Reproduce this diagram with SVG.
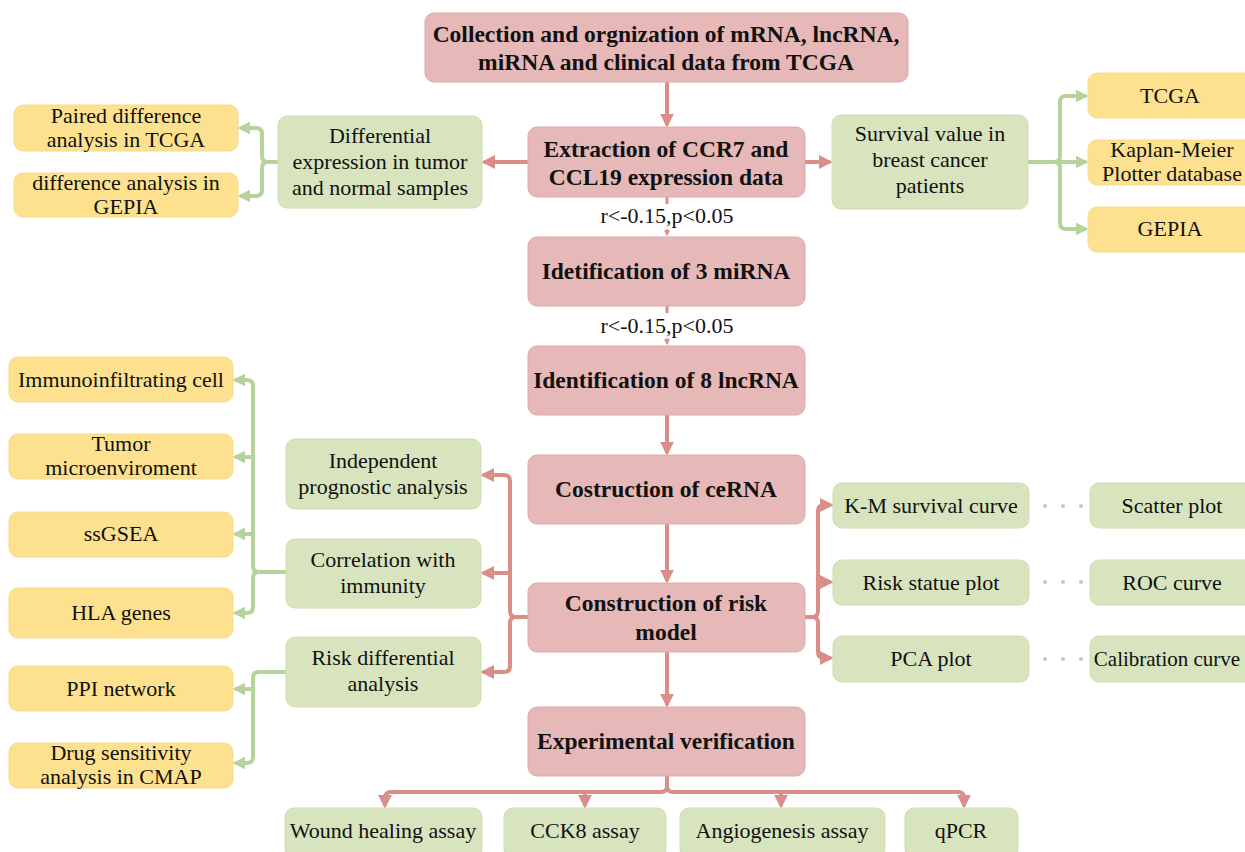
<svg xmlns="http://www.w3.org/2000/svg" width="1245" height="852" viewBox="0 0 1245 852">
<defs>
<style>
.r{fill:#E6B8B7;stroke:#DDAAA9;stroke-width:1}
.g{fill:#D7E4BD;stroke:#CEDDB2;stroke-width:1}
.y{fill:#FEE18F;stroke:#F8DA88;stroke-width:1}
text{font-family:"Liberation Serif","Times New Roman",serif;fill:#111;text-anchor:middle}
.b{font-weight:bold;font-size:23.5px}
.n{font-size:22px}
.rl{fill:none;stroke:#D98E8A;stroke-width:4}
.gl{fill:none;stroke:#B7D39C;stroke-width:4}
.dot{fill:none;stroke:#B7D39C;stroke-width:4;stroke-linecap:round;stroke-dasharray:0 18}
</style>
<marker id="ar" viewBox="0 0 10 10" refX="8" refY="5" markerUnits="userSpaceOnUse" markerWidth="14" markerHeight="14" orient="auto"><path d="M0,0 L10,5 L0,10 z" fill="#D98E8A"/></marker>
<marker id="ag" viewBox="0 0 10 10" refX="8" refY="5" markerUnits="userSpaceOnUse" markerWidth="13" markerHeight="13" orient="auto"><path d="M0,0 L10,5 L0,10 z" fill="#B7D39C"/></marker>
<marker id="as" viewBox="0 0 10 10" refX="8" refY="5" markerUnits="userSpaceOnUse" markerWidth="6" markerHeight="6" orient="auto"><path d="M0,0 L10,5 L0,10 z" fill="#D98E8A"/></marker>
</defs>
<rect width="1245" height="852" fill="#fff"/>

<g id="connectors">
<path class="rl" d="M667,82 V125" marker-end="url(#ar)"/>
<path class="rl" d="M528,162 H484" marker-end="url(#ar)"/>
<path class="rl" d="M805,162 H830" marker-end="url(#ar)"/>
<path d="M667,197 V204" stroke="#D98E8A" stroke-width="3"/>
<path d="M667,229 V235" stroke="#D98E8A" stroke-width="1.5" marker-end="url(#as)"/>
<path d="M667,306 V313" stroke="#D98E8A" stroke-width="3"/>
<path d="M667,338 V344" stroke="#D98E8A" stroke-width="1.5" marker-end="url(#as)"/>
<path class="rl" d="M667,415 V453" marker-end="url(#ar)"/>
<path class="rl" d="M667,524 V581" marker-end="url(#ar)"/>
<path class="rl" d="M667,652 V705" marker-end="url(#ar)"/>
<path class="gl" d="M278,162 H268 Q262,162 262,156 V134 Q262,128 256,128 H240" marker-end="url(#ag)"/>
<path class="gl" d="M268,162 Q262,162 262,168 V190 Q262,196 256,196 H240" marker-end="url(#ag)"/>
<path class="gl" d="M1028,162 H1054 Q1060,162 1060,156 V102 Q1060,96 1066,96 H1086" marker-end="url(#ag)"/>
<path class="gl" d="M1054,162 H1086" marker-end="url(#ag)"/>
<path class="gl" d="M1054,162 Q1060,162 1060,168 V223 Q1060,229 1066,229 H1086" marker-end="url(#ag)"/>
<path class="rl" d="M528,617 H516 Q510,617 510,611 V481 Q510,475 504,475 H483" marker-end="url(#ar)"/>
<path class="rl" d="M510,573 H483" marker-end="url(#ar)"/>
<path class="rl" d="M516,617 Q510,617 510,623 V666 Q510,672 504,672 H483" marker-end="url(#ar)"/>
<path class="rl" d="M805,617 H812 Q818,617 818,611 V511 Q818,505 824,505 H831" marker-end="url(#ar)"/>
<path class="rl" d="M818,582 H831" marker-end="url(#ar)"/>
<path class="rl" d="M812,617 Q818,617 818,623 V652 Q818,658 824,658 H831" marker-end="url(#ar)"/>
<path class="gl" d="M286,572 H259 Q253,572 253,566 V386 Q253,380 247,380 H235" marker-end="url(#ag)"/>
<path class="gl" d="M253,457 H235" marker-end="url(#ag)"/>
<path class="gl" d="M253,534 H235" marker-end="url(#ag)"/>
<path class="gl" d="M259,572 Q253,572 253,578 V607 Q253,613 247,613 H235" marker-end="url(#ag)"/>
<path class="gl" d="M286,672 H259 Q253,672 253,678 V757 Q253,763 247,763 H235" marker-end="url(#ag)"/>
<path class="gl" d="M253,689 H235" marker-end="url(#ag)"/>
<path class="dot" d="M1045,506 H1085"/>
<path class="dot" d="M1045,582 H1085"/>
<path class="dot" d="M1045,659 H1085"/>
<path class="rl" d="M667,776 V786 Q667,792 661,792 H391 Q385,792 385,798 V806" marker-end="url(#ar)"/>
<path class="rl" d="M585,792 V806" marker-end="url(#ar)"/>
<path class="rl" d="M673,792 H958 Q964,792 964,798 V806" marker-end="url(#ar)"/>
<path class="rl" d="M667,786 Q667,792 673,792"/>
<path class="rl" d="M781,792 V806" marker-end="url(#ar)"/>
</g>

<g id="n-collect"><rect class="r" x="425" y="13" width="483" height="69" rx="9"/><text class="b" x="666" y="42">Collection and orgnization of mRNA, lncRNA,</text><text class="b" x="666" y="70">miRNA and clinical data from TCGA</text></g>
<g id="n-extract"><rect class="r" x="528" y="127" width="277" height="70" rx="9"/><text class="b" x="666" y="157">Extraction of CCR7 and</text><text class="b" x="666" y="185">CCL19 expression data</text></g>
<g id="l1"><text class="n" x="667" y="223">r&lt;-0.15,p&lt;0.05</text></g>
<g id="n-mirna"><rect class="r" x="528" y="237" width="277" height="69" rx="9"/><text class="b" x="666" y="279">Idetification of 3 miRNA</text></g>
<g id="l2"><text class="n" x="667" y="333">r&lt;-0.15,p&lt;0.05</text></g>
<g id="n-lnc"><rect class="r" x="528" y="346" width="277" height="69" rx="9"/><text class="b" x="666" y="388">Identification of 8 lncRNA</text></g>
<g id="n-cerna"><rect class="r" x="528" y="455" width="277" height="69" rx="9"/><text class="b" x="666" y="497">Costruction of ceRNA</text></g>
<g id="n-risk"><rect class="r" x="528" y="583" width="277" height="69" rx="9"/><text class="b" x="666" y="611">Construction of risk</text><text class="b" x="666" y="640">model</text></g>
<g id="n-exp"><rect class="r" x="528" y="707" width="277" height="69" rx="9"/><text class="b" x="666" y="749">Experimental verification</text></g>

<g id="n-diff"><rect class="g" x="278" y="116" width="204" height="92" rx="9"/><text class="n" x="380" y="143">Differential</text><text class="n" x="380" y="169">expression in tumor</text><text class="n" x="380" y="195">and normal samples</text></g>
<g id="n-paired"><rect class="y" x="14" y="105" width="224" height="46" rx="9"/><text class="n" x="126" y="123">Paired difference</text><text class="n" x="126" y="147">analysis in TCGA</text></g>
<g id="n-gepia1"><rect class="y" x="14" y="173" width="224" height="44" rx="9"/><text class="n" x="126" y="190">difference analysis in</text><text class="n" x="126" y="214">GEPIA</text></g>

<g id="n-surv"><rect class="g" x="832" y="115" width="196" height="94" rx="9"/><text class="n" x="930" y="141">Survival value in</text><text class="n" x="930" y="167">breast cancer</text><text class="n" x="930" y="193">patients</text></g>
<g id="n-tcga"><rect class="y" x="1088" y="73" width="166" height="45" rx="9"/><text class="n" x="1170" y="103">TCGA</text></g>
<g id="n-km"><rect class="y" x="1088" y="140" width="166" height="45" rx="9"/><text class="n" x="1172" y="157">Kaplan-Meier</text><text class="n" x="1172" y="181">Plotter database</text></g>
<g id="n-gepia2"><rect class="y" x="1088" y="207" width="166" height="45" rx="9"/><text class="n" x="1170" y="236">GEPIA</text></g>

<g id="n-immuno"><rect class="y" x="9" y="357" width="224" height="45" rx="9"/><text class="n" x="121" y="387">Immunoinfiltrating cell</text></g>
<g id="n-tumor"><rect class="y" x="9" y="434" width="224" height="45" rx="9"/><text class="n" x="121" y="451">Tumor</text><text class="n" x="121" y="475">microenviroment</text></g>
<g id="n-ssgsea"><rect class="y" x="9" y="512" width="224" height="45" rx="9"/><text class="n" x="121" y="541">ssGSEA</text></g>
<g id="n-hla"><rect class="y" x="9" y="588" width="224" height="50" rx="9"/><text class="n" x="121" y="620">HLA genes</text></g>
<g id="n-ppi"><rect class="y" x="9" y="666" width="224" height="45" rx="9"/><text class="n" x="121" y="696">PPI network</text></g>
<g id="n-drug"><rect class="y" x="9" y="743" width="224" height="45" rx="9"/><text class="n" x="121" y="760">Drug sensitivity</text><text class="n" x="121" y="784">analysis in CMAP</text></g>

<g id="n-indep"><rect class="g" x="286" y="439" width="195" height="70" rx="9"/><text class="n" x="383" y="468">Independent</text><text class="n" x="383" y="494">prognostic analysis</text></g>
<g id="n-corr"><rect class="g" x="286" y="539" width="195" height="69" rx="9"/><text class="n" x="383" y="567">Correlation with</text><text class="n" x="383" y="593">immunity</text></g>
<g id="n-riskdiff"><rect class="g" x="286" y="637" width="195" height="70" rx="9"/><text class="n" x="383" y="665">Risk differential</text><text class="n" x="383" y="691">analysis</text></g>

<g id="n-kmcurve"><rect class="g" x="833" y="483" width="196" height="45" rx="9"/><text class="n" x="931" y="513">K-M survival curve</text></g>
<g id="n-riskplot"><rect class="g" x="833" y="560" width="196" height="45" rx="9"/><text class="n" x="931" y="590">Risk statue plot</text></g>
<g id="n-pca"><rect class="g" x="833" y="636" width="196" height="46" rx="9"/><text class="n" x="931" y="666">PCA plot</text></g>
<g id="n-scatter"><rect class="g" x="1090" y="483" width="166" height="45" rx="9"/><text class="n" x="1172" y="513">Scatter plot</text></g>
<g id="n-roc"><rect class="g" x="1090" y="560" width="166" height="45" rx="9"/><text class="n" x="1172" y="590">ROC curve</text></g>
<g id="n-calib"><rect class="g" x="1090" y="636" width="166" height="46" rx="9"/><text class="n" x="1167" y="666" style="font-size:21px">Calibration curve</text></g>

<g id="n-wound"><rect class="g" x="285" y="808" width="197" height="50" rx="9"/><text class="n" x="383" y="838">Wound healing assay</text></g>
<g id="n-cck8"><rect class="g" x="504" y="808" width="162" height="50" rx="9"/><text class="n" x="585" y="838">CCK8 assay</text></g>
<g id="n-angio"><rect class="g" x="680" y="808" width="205" height="50" rx="9"/><text class="n" x="782" y="838">Angiogenesis assay</text></g>
<g id="n-qpcr"><rect class="g" x="905" y="808" width="113" height="50" rx="9"/><text class="n" x="961" y="838">qPCR</text></g>
</svg>
